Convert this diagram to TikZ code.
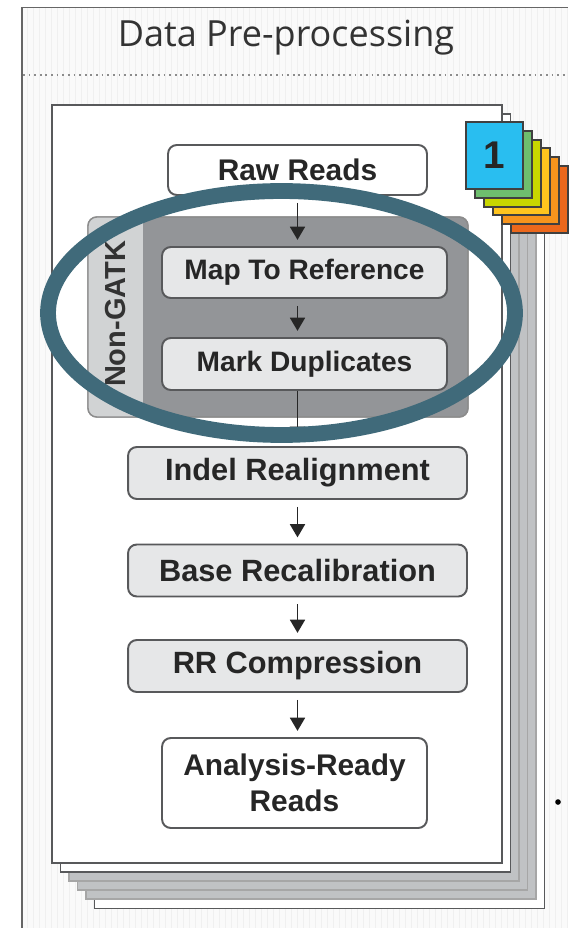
\documentclass[tikz,border=0pt]{standalone}
\usepackage{fontspec}
\setmainfont{Liberation Sans}
\newfontfamily\titlefont{Open Sans}
\usetikzlibrary{calc}
\usetikzlibrary{arrows.meta}
\usetikzlibrary{positioning}
\definecolor{boxgray}{RGB}{230, 231, 232}
\definecolor{edgegray}{RGB}{88, 89, 91}
\definecolor{groupgray}{RGB}{147, 149, 152}
\definecolor{stripgray}{RGB}{209, 211, 212}
\definecolor{pagegray}{RGB}{192, 194, 196}
\definecolor{tabblue}{RGB}{41, 190, 240}
\definecolor{tabgreen}{RGB}{110, 190, 110}
\definecolor{tablime}{RGB}{200, 214, 0}
\definecolor{tabgold}{RGB}{255, 196, 30}
\definecolor{taborange}{RGB}{247, 148, 29}
\definecolor{tabrust}{RGB}{236, 104, 28}
\definecolor{ringteal}{RGB}{64, 106, 122}

\begin{document}
\begin{tikzpicture}[x=0.02cm, y=-0.02cm,
    stepbox/.style={draw=edgegray, line width=1.1pt, rounded corners=5pt, fill=boxgray,
        font=\fontsize{17.5}{20}\selectfont\bfseries, text=black!85, align=center, inner sep=0pt},
    flowarrow/.style={-{Triangle[width=8.5pt,length=7.5pt]}, line width=1.1pt, black!85,
        shorten <=4pt, shorten >=3.5pt}
  ]
  \useasboundingbox (0,0) rectangle (568,928);
  % frame and faint grid
  \fill[black!2] (22,7) rectangle (568,928);
  \foreach \gx in {27,33,...,567} \draw[black!6, line width=0.3pt] (\gx,8) -- (\gx,928);
  \draw[black!60, line width=1.1pt] (22,928) -- (22,7.5) -- (568,7.5);
  \node[font=\titlefont\fontsize{20.5}{24}\selectfont, text=black!80] (title) at (286,38) {Data Pre-processing};
  \draw[black!45, line width=1.2pt, dash pattern=on 1pt off 2.2pt] (23,75) -- (568,75);

  % stacked pages, back to front
  \foreach \k/\pfill/\pdraw in {5/white/edgegray,4/pagegray/black!35,3/pagegray/black!35,2/pagegray/black!35,1/white/edgegray,0/white/edgegray}
    \filldraw[draw=\pdraw, fill=\pfill, line width=1.1pt] ($(52,105)+\k*(8.5,9.1)$) rectangle ($(502,863)+\k*(8.5,9.1)$);

  % sample tabs
  \foreach \k/\tcol in {5/tabrust,4/taborange,3/tabgold,2/tablime,1/tabgreen,0/tabblue}
    \filldraw[draw=black!75, fill=\tcol, line width=1.1pt] ($(466,122)+\k*(9,8.8)$) rectangle ++(57,67);
  \node[font=\fontsize{22}{24}\selectfont\bfseries, text=black!85] (tabone) at (494.5,155.5) {1};

  % non-GATK group
  \node[draw=black!45, fill=groupgray, rounded corners=5pt, line width=0.8pt,
        minimum width=7.6cm, minimum height=4cm] (group) at (278,317) {};
  \begin{scope}
    \clip[rounded corners=5pt] (88,217) rectangle (468,417);
    \fill[stripgray] (88,217) rectangle (143,417);
  \end{scope}
  \draw[black!45, rounded corners=5pt, line width=0.8pt] (88,217) rectangle (468,417);
  \node[rotate=90, font=\fontsize{16.5}{19}\selectfont\bfseries, text=black!80] (nongatk) at (116,314) {Non-GATK};

  % steps
  \node[stepbox, fill=white, font=\fontsize{17}{20}\selectfont\bfseries, minimum width=5.18cm, minimum height=1.0cm] (raw) at (297.5,170) {Raw Reads};
  \node[stepbox, font=\fontsize{16}{19}\selectfont\bfseries, minimum width=5.7cm, minimum height=1.02cm] (map) at (304.5,272.5) {Map To Reference};
  \node[stepbox, font=\fontsize{16}{19}\selectfont\bfseries, minimum width=5.7cm, minimum height=1.04cm] (mark) at (304.5,364) {Mark Duplicates};
  \node[stepbox, minimum width=6.78cm, minimum height=1.04cm] (indel) at (297.5,473) {Indel Realignment};
  \node[stepbox, minimum width=6.78cm, minimum height=1.04cm] (base) at (297.5,570.5) {Base Recalibration};
  \node[stepbox, minimum width=6.78cm, minimum height=1.04cm] (rr) at (297.5,666) {RR Compression};
  \node[stepbox, fill=white, font=\fontsize{17}{20.5}\selectfont\bfseries, minimum width=5.3cm, minimum height=1.8cm] (ready) at (294.5,783) {Analysis-Ready\\Reads};

  \draw[flowarrow] (raw.south) -- (raw.south |- map.north);
  \draw[flowarrow] (raw.south |- map.south) -- (raw.south |- mark.north);
  \draw[flowarrow, shorten <=0pt] (raw.south |- mark.south) -- (raw.south |- indel.north);
  \draw[flowarrow] (indel.south) -- (indel.south |- base.north);
  \draw[flowarrow] (base.south) -- (base.south |- rr.north);
  \draw[flowarrow] (rr.south) -- (rr.south |- ready.north);

  % highlight ring
  \draw[ringteal, line width=9pt] (281.5,313) ellipse (4.67cm and 2.44cm);
  \fill[black] (558,802) circle (1.6pt);
\end{tikzpicture}
\end{document}
